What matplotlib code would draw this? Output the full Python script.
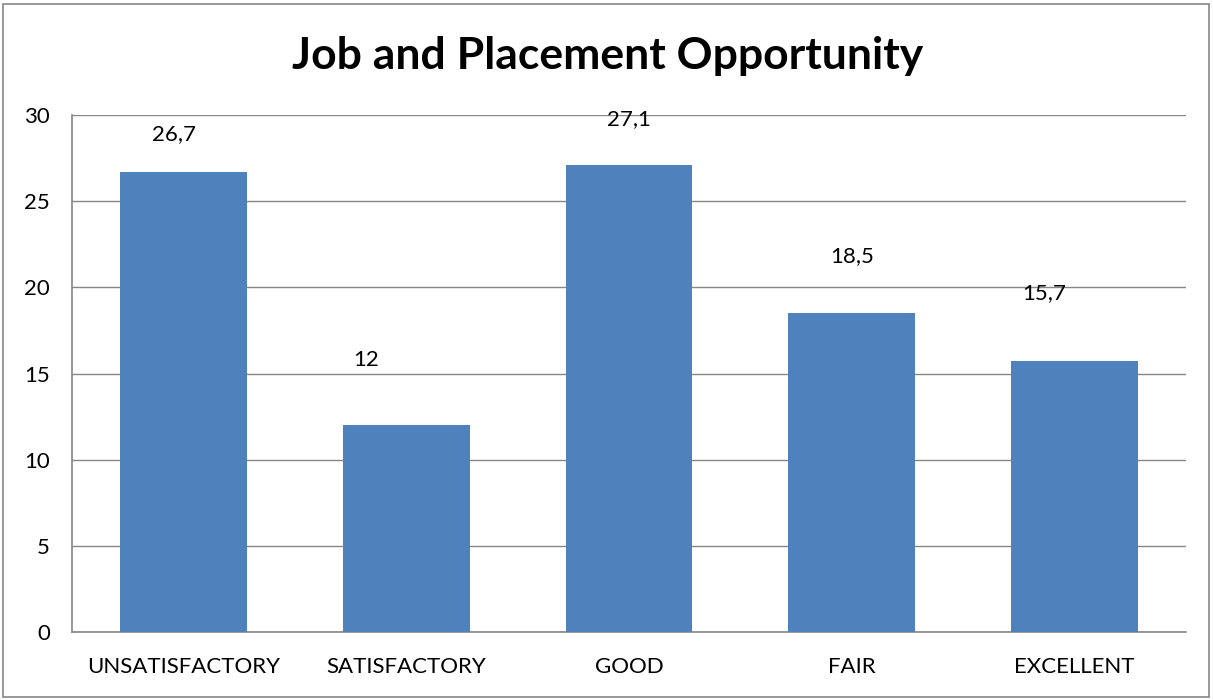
import matplotlib.pyplot as plt
from matplotlib.patches import Rectangle

categories = ["UNSATISFACTORY", "SATISFACTORY", "GOOD", "FAIR", "EXCELLENT"]
values = [26.7, 12, 27.1, 18.5, 15.7]
y_ticks = [0, 5, 10, 15, 20, 25, 30]

# offsets (points) of each value label from its bar's top centre
label_dx = [-7, -29, 0, 0, -22]
label_dy = [27, 47, 33, 41, 49]

plt.rcParams["font.family"] = ["Lato", "DejaVu Sans"]

fig = plt.figure(figsize=(12.13, 7.0), dpi=100)
ax = fig.add_axes([72 / 1213, 68 / 700, 1114 / 1213, 517 / 700])

x = range(len(categories))
ax.bar(x, values, width=0.57, color="#4F81BD", zorder=3)

for i, v in enumerate(values):
    txt = f"{v:g}".replace(".", ",")
    ax.annotate(txt, (i, v), xytext=(label_dx[i], label_dy[i]), textcoords="offset points",
                ha="center", va="center", fontsize=16, color="black", zorder=4)

ax.set_xlim(-0.5, len(categories) - 0.5)
ax.set_ylim(0, 30)
ax.set_yticks(y_ticks)
ax.set_xticks(list(x))
ax.set_xticklabels(categories)
ax.tick_params(axis="both", labelsize=16, length=0, colors="black")
ax.tick_params(axis="y", pad=16)
ax.tick_params(axis="x", pad=18)
ax.yaxis.grid(True, color="#868686", linewidth=1.0, zorder=0)

for side in ["top", "right"]:
    ax.spines[side].set_visible(False)
for side in ["left", "bottom"]:
    ax.spines[side].set_color("#868686")
    ax.spines[side].set_linewidth(1.2)

fig.text(608 / 1213, 1 - 56 / 700, "Job and Placement Opportunity",
         ha="center", va="center", fontsize=32, fontweight="bold")

# chart frame
fig.patches.append(Rectangle((3 / 1213, 3 / 700), 1206 / 1213, 693 / 700,
                             transform=fig.transFigure, fill=False,
                             edgecolor="#868686", linewidth=1.2))

fig.savefig("out.png", dpi=100)
